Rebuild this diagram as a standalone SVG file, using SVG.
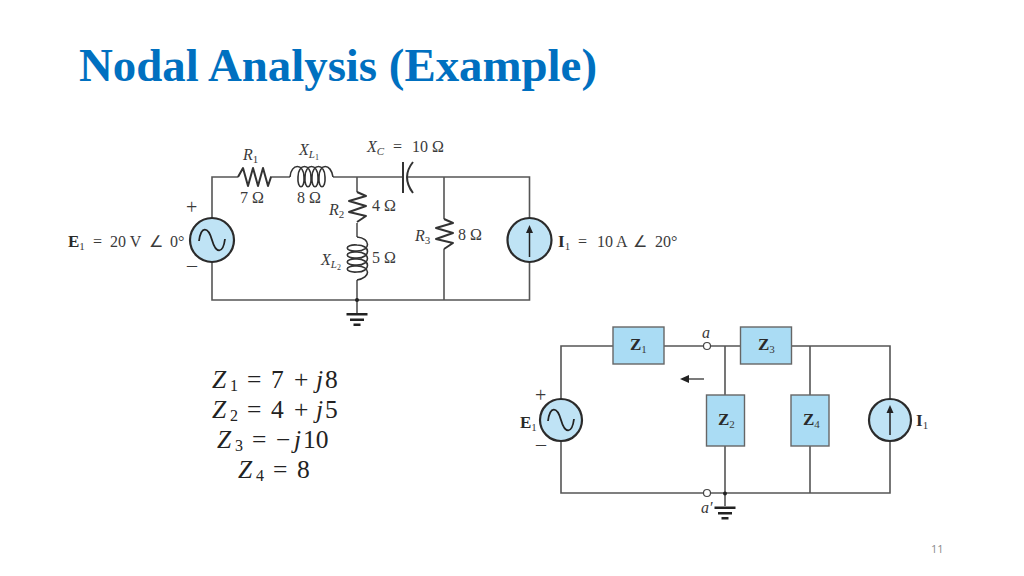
<svg xmlns="http://www.w3.org/2000/svg" xmlns:xlink="http://www.w3.org/1999/xlink" width="1024" height="576" viewBox="0 0 1024 576">
<style>
.w{fill:none;stroke:#555;stroke-width:1.6}
.c{fill:none;stroke:#333;stroke-width:2;stroke-linejoin:round}
.l{fill:none;stroke:#333;stroke-width:1.6}
.src{fill:#bfe3f5;stroke:#2b2b2b;stroke-width:2.2}
.box{fill:#aadcf4;stroke:#666;stroke-width:1.4}
.t{font-family:"Liberation Serif",serif;font-size:16px;fill:#3a3a3a}
.i{font-style:italic}
.b{font-weight:bold;fill:#2a2a2a;font-size:17px}
.s{font-size:11px}
.xs{font-size:8px}
.o{font-size:20px}
.m{font-family:"Liberation Serif",serif;font-size:25.500px;fill:#222}
.ms{font-size:16px}
.mo{font-size:25.500px}
.g{fill:#222}
</style>
<defs>
<path id="coil" class="l" d="M0 0C1 -14 14 -14 14 0C15 13 7 13 8 0C8 -14 21 -14 21 0C22 13 14 13 15 0C15 -14 28 -14 28 0C29 13 21 13 22 0C22 -14 35 -14 35 0C36 13 28 13 29 0C29 -14 41 -14 43 0"/>
<polyline id="zig" class="c" points="0,0 9,4 -8,9 9,14 -8,20 9,24 0,30"/>
<g id="gnd"><rect x="-10.500" y="0" width="21" height="2.500" class="g"/><rect x="-7" y="5.500" width="14" height="2.500" class="g"/><rect x="-3.500" y="10.500" width="7" height="2.500" class="g"/></g>
<marker id="ah" markerWidth="9" markerHeight="8" refX="1" refY="4" orient="auto" markerUnits="userSpaceOnUse"><path d="M0 0L9 4L0 8Z" fill="#222"/></marker>
</defs>
<rect width="1024" height="576" fill="#fff"/>
<text id="title" x="79" y="81" font-family="Liberation Serif,serif" font-weight="bold" font-size="47px" fill="#0070c0" textLength="518" lengthAdjust="spacingAndGlyphs">Nodal Analysis (Example)</text>

<g id="connectors">
<path class="w" d="M212 218V177H238M270 177H290M333 177H403M407 177H529.500V218M529.500 262V300H212V262M357 177V192M357 223V237M357 280V313M444 177V219M444 249V300"/>
<path class="w" d="M561 399V346H613M664 346H703M710.500 346H740M725 346V395M725 446V506M791 346H890V399M810 346V395M810 446V493M890 441V493H711M703 493H561V441"/>
<path d="M704 379H688" stroke="#333" stroke-width="1.300" marker-end="url(#ah)"/>
</g>

<g id="r1"><polyline class="c" points="238,177 243,168 248,186 253,168 258,186 263,168 268,186 271,177"/>
<text class="t i" x="243" y="160">R<tspan class="s" dy="3" font-style="normal">1</tspan></text><text class="t" x="240" y="203">7 Ω</text></g>
<g id="xl1"><use xlink:href="#coil" href="#coil" transform="translate(290 177)"/>
<text class="t i" x="299" y="155">X<tspan class="s" dy="3">L</tspan><tspan class="xs" dy="2" font-style="normal">1</tspan></text><text class="t" x="297" y="203">8 Ω</text></g>
<g id="xc"><path class="c" d="M403 162V193"/><path class="c" d="M413 162Q401 177 413 193"/>
<text class="t i" x="367" y="152">X<tspan class="s" dy="3">C</tspan></text><text class="t" x="393" y="152">=</text><text class="t" x="412" y="152">10 Ω</text></g>
<g id="r2"><use xlink:href="#zig" href="#zig" transform="translate(357 192)"/>
<text class="t i" x="329" y="215">R<tspan class="s" dy="3" font-style="normal">2</tspan></text><text class="t" x="372" y="211">4 Ω</text></g>
<g id="xl2"><use xlink:href="#coil" href="#coil" transform="matrix(0 1 -1 0 357 237)"/>
<text class="t i" x="321" y="265">X<tspan class="s" dy="3">L</tspan><tspan class="xs" dy="2" font-style="normal">2</tspan></text><text class="t" x="372" y="263">5 Ω</text></g>
<g id="r3"><use xlink:href="#zig" href="#zig" transform="translate(444 219)"/>
<text class="t i" x="415" y="241">R<tspan class="s" dy="3" font-style="normal">3</tspan></text><text class="t" x="458" y="240">8 Ω</text></g>
<g id="e1"><circle class="src" cx="212" cy="240" r="22"/><path d="M199 241C201 226 208 226 212 240C216 254 223 254 225 239" fill="none" stroke="#222" stroke-width="1.800"/>
<text class="t o" x="186" y="214">+</text><text class="t o" x="187" y="272">–</text>
<text class="t" y="247"><tspan class="b" x="68">E</tspan><tspan class="s" dy="3">1</tspan><tspan dy="-3" x="93">=</tspan><tspan x="110">20 V</tspan><tspan x="149">∠</tspan><tspan x="170">0°</tspan></text></g>
<g id="i1"><circle class="src" cx="529.500" cy="240" r="22"/><path d="M529.500 257V232" stroke="#222" stroke-width="1.500"/><path d="M529.500 225L533 233H526Z" fill="#222"/>
<text class="t" y="247"><tspan class="b" x="558">I</tspan><tspan class="s" dy="3">1</tspan><tspan dy="-3" x="578">=</tspan><tspan x="597">10 A</tspan><tspan x="633">∠</tspan><tspan x="655">20°</tspan></text></g>
<g id="gnd1"><circle cx="357" cy="300" r="2" class="g"/><use xlink:href="#gnd" href="#gnd" transform="translate(357 313)"/></g>

<g id="z1"><rect class="box" x="613" y="327" width="51" height="37"/><text class="t" x="630" y="350"><tspan class="b">Z</tspan><tspan class="s" dy="3">1</tspan></text></g>
<g id="z2"><rect class="box" x="706.500" y="395" width="38" height="51"/><text class="t" x="718" y="425"><tspan class="b">Z</tspan><tspan class="s" dy="3">2</tspan></text></g>
<g id="z3"><rect class="box" x="740.500" y="327" width="51" height="37"/><text class="t" x="758" y="350"><tspan class="b">Z</tspan><tspan class="s" dy="3">3</tspan></text></g>
<g id="z4"><rect class="box" x="791" y="395" width="38" height="51"/><text class="t" x="803" y="425"><tspan class="b">Z</tspan><tspan class="s" dy="3">4</tspan></text></g>
<g id="e2"><circle class="src" cx="561" cy="420" r="21"/><path d="M548 421C550 406 557 406 561 420C565 434 572 434 574 419" fill="none" stroke="#222" stroke-width="1.800"/>
<text class="t o" x="535" y="402">+</text><text class="t o" x="536" y="451">–</text>
<text class="t" x="520" y="428"><tspan class="b">E</tspan><tspan class="s" dy="3">1</tspan></text></g>
<g id="i2"><circle class="src" cx="890" cy="420" r="21"/><path d="M890 435V412" stroke="#222" stroke-width="1.500"/><path d="M890 405L893.500 413H886.500Z" fill="#222"/>
<text class="t" x="916" y="426"><tspan class="b">I</tspan><tspan class="s" dy="3">1</tspan></text></g>
<g id="a"><circle cx="707" cy="346" r="3.500" fill="#fff" stroke="#444" stroke-width="1.200"/><text class="t i" x="702" y="338">a</text></g>
<g id="a-prime"><circle cx="707" cy="493" r="3.500" fill="#fff" stroke="#444" stroke-width="1.200"/><text class="t i" x="701" y="513">a′</text></g>
<g id="gnd2"><circle cx="725" cy="493.500" r="2" class="g"/><use xlink:href="#gnd" href="#gnd" transform="translate(725 506.500)"/></g>

<g id="equations">
<text class="m" y="388"><tspan class="i" x="212">Z</tspan><tspan class="ms" x="230" dy="3">1</tspan><tspan class="mo" dy="-3" x="247">=</tspan><tspan x="271">7</tspan><tspan class="mo" x="294">+</tspan><tspan class="i" x="316">j</tspan><tspan x="325">8</tspan></text>
<text class="m" y="418"><tspan class="i" x="212">Z</tspan><tspan class="ms" x="230" dy="3">2</tspan><tspan class="mo" dy="-3" x="247">=</tspan><tspan x="271">4</tspan><tspan class="mo" x="294">+</tspan><tspan class="i" x="316">j</tspan><tspan x="325">5</tspan></text>
<text class="m" y="448"><tspan class="i" x="217">Z</tspan><tspan class="ms" x="235" dy="3">3</tspan><tspan class="mo" dy="-3" x="252">=</tspan><tspan class="mo" x="276">−</tspan><tspan class="i" x="294">j</tspan><tspan x="303">10</tspan></text>
<text class="m" y="478"><tspan class="i" x="238">Z</tspan><tspan class="ms" x="256" dy="3">4</tspan><tspan class="mo" dy="-3" x="273">=</tspan><tspan x="297">8</tspan></text>
</g>
<text id="page" x="931" y="553" font-family="Open Sans,sans-serif" font-size="11px" fill="#8a8a8a">11</text>
</svg>
